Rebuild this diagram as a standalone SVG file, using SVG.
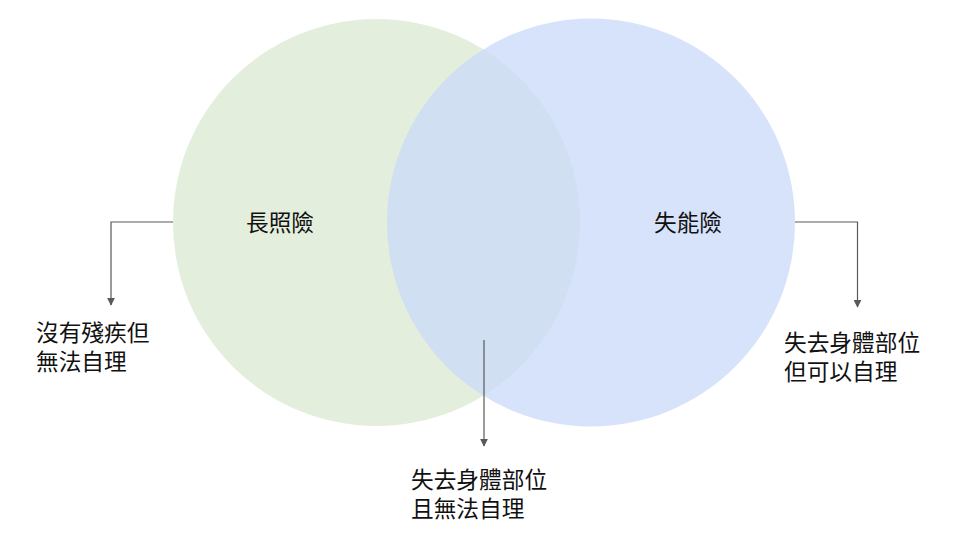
<svg xmlns="http://www.w3.org/2000/svg" width="960" height="552" viewBox="0 0 960 552">
<defs>
<style>
.t{font-family:"Liberation Sans","Noto Sans CJK TC","Noto Sans CJK SC",sans-serif;font-size:22.7px;fill:#111111}
.c{fill:none;stroke:#595959;stroke-width:1.2}
</style>
<marker id="ah" viewBox="0 0 10 10" refX="9" refY="5" markerWidth="8" markerHeight="8" markerUnits="userSpaceOnUse" orient="auto">
<path d="M0,0 L10,5 L0,10 z" fill="#595959"/>
</marker>
</defs>
<rect width="960" height="552" fill="#ffffff"/>
<g id="node-ltc">
<circle cx="376.5" cy="222.5" r="203.5" fill="#e4eedd"/>
<text class="t" x="280" y="231" text-anchor="middle">長照險</text>
</g>
<g id="node-di">
<circle cx="591" cy="222.5" r="204" fill="#c9daf8" fill-opacity="0.75"/>
<text class="t" x="688" y="231" text-anchor="middle">失能險</text>
</g>
<g id="connectors">
<path class="c" d="M173,222 H111 V305" marker-end="url(#ah)"/>
<path class="c" d="M795,222 H857.5 V307" marker-end="url(#ah)"/>
<path class="c" d="M484,340 V446" marker-end="url(#ah)"/>
</g>
<g id="label-left">
<text class="t" x="36" y="341">沒有殘疾但<tspan x="36" dy="29">無法自理</tspan></text>
</g>
<g id="label-right">
<text class="t" x="784" y="351">失去身體部位<tspan x="784" dy="29">但可以自理</tspan></text>
</g>
<g id="label-middle">
<text class="t" x="411" y="488">失去身體部位<tspan x="411" dy="29">且無法自理</tspan></text>
</g>
</svg>
